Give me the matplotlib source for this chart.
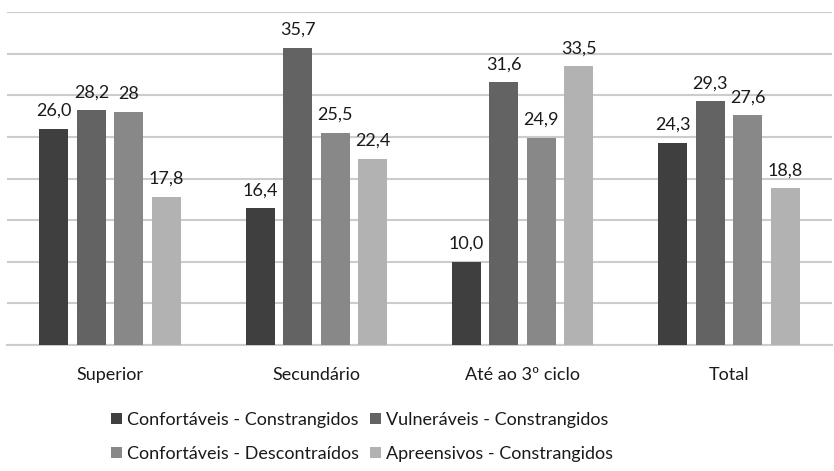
import matplotlib
matplotlib.use("Agg")
import matplotlib.pyplot as plt
import numpy as np

plt.rcParams['font.family'] = ['Lato', 'DejaVu Sans']

categories = ["Superior", "Secundário", "Até ao 3º ciclo", "Total"]
series_names = ["Confortáveis - Constrangidos", "Vulneráveis - Constrangidos",
                "Confortáveis - Descontraídos", "Apreensivos - Constrangidos"]
conf_constr = [26.0, 16.4, 10.0, 24.3]
vuln_constr = [28.2, 35.7, 31.6, 29.3]
conf_desc = [28.0, 25.5, 24.9, 27.6]
apre_constr = [17.8, 22.4, 33.5, 18.8]
# labels as printed on the chart
conf_constr_lbl = ["26,0", "16,4", "10,0", "24,3"]
vuln_constr_lbl = ["28,2", "35,7", "31,6", "29,3"]
conf_desc_lbl = ["28", "25,5", "24,9", "27,6"]
apre_constr_lbl = ["17,8", "22,4", "33,5", "18,8"]

colors = ["#3f3f3f", "#636363", "#888888", "#b2b2b2"]

fig = plt.figure(figsize=(8.34, 4.71), dpi=100)
ax = fig.add_axes([0.0084, 0.2675, 0.9892, 0.707])

x = np.arange(len(categories))
width = 0.141
step = 0.182
all_vals = [conf_constr, vuln_constr, conf_desc, apre_constr]
all_lbls = [conf_constr_lbl, vuln_constr_lbl, conf_desc_lbl, apre_constr_lbl]
handles = []
for i, (vals, lbls) in enumerate(zip(all_vals, all_lbls)):
    bars = ax.bar(x + (i - 1.5) * step, vals, width, color=colors[i],
                  label=series_names[i], zorder=3)
    ax.bar_label(bars, labels=lbls, padding=7, fontsize=13, color="#1a1a1a")
    handles.append(bars)

ax.set_xlim(-0.5, 3.5)
ax.set_ylim(0, 40)
ax.set_yticks(np.arange(0, 41, 5))
ax.yaxis.grid(True, color="#cccccc", linewidth=1.5, zorder=0)
ax.tick_params(axis='y', left=False, labelleft=False)
ax.tick_params(axis='x', length=0, pad=16, labelsize=13, labelcolor="#1a1a1a")
ax.set_xticks(x)
ax.set_xticklabels(categories)
for s in ["top", "right", "left"]:
    ax.spines[s].set_visible(False)
ax.spines["bottom"].set_color("#cccccc")
ax.spines["bottom"].set_linewidth(1.5)

order = [0, 2, 1, 3]
fig.legend([handles[k] for k in order], [series_names[k] for k in order],
           loc="upper center", bbox_to_anchor=(0.434, 0.16), ncol=2,
           frameon=False, fontsize=13, handlelength=0.6, handleheight=0.6,
           handletextpad=0.3, columnspacing=0.6, labelspacing=1.0,
           labelcolor="#1a1a1a")

fig.savefig("out.png", dpi=100)
